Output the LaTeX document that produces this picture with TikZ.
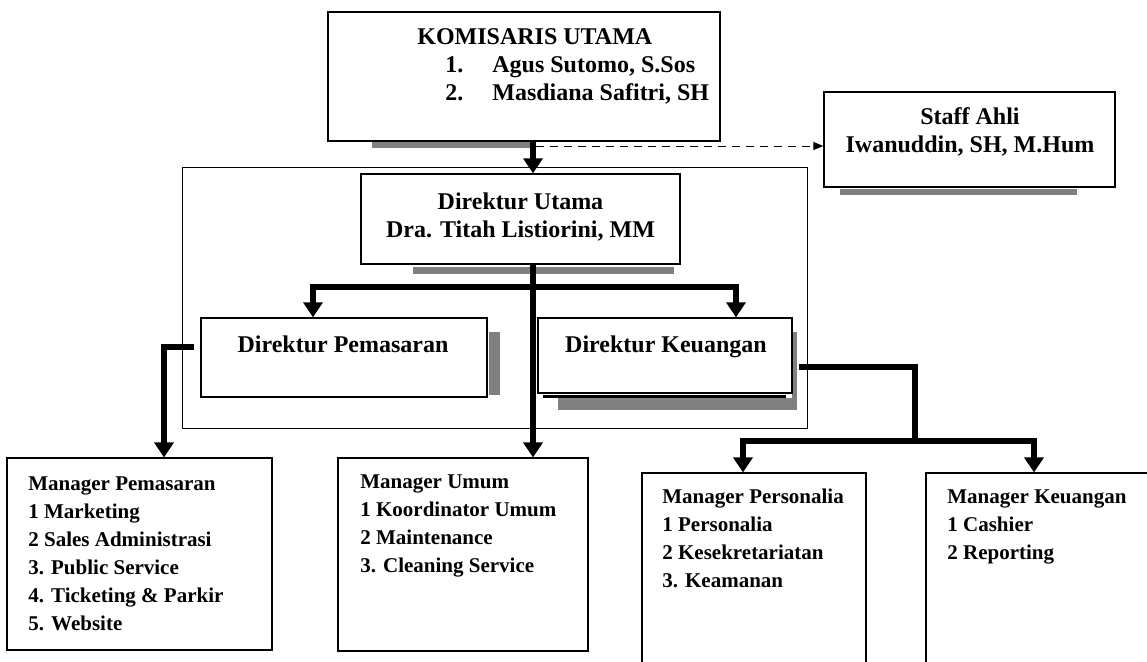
\documentclass[tikz,border=0pt]{standalone}
\usepackage{fontspec}
\setmainfont{Liberation Serif}
\usetikzlibrary{arrows.meta}

\tikzset{
  >={Triangle[length=7.5pt,width=9.5pt]},
  box/.style={draw, line width=0.7pt, fill=white, inner sep=0pt},
  mgrbox/.style={draw, line width=0.6pt, fill=white, inner sep=0pt},
  ghost/.style={fill=gray},
  big/.style={font=\fontsize{12}{14}\selectfont\bfseries, inner sep=0pt},
  small/.style={font=\fontsize{10.5}{14}\selectfont\bfseries, inner sep=0pt, align=left, anchor=base west},
  link/.style={line width=2.6pt, ->},
  bar/.style={line width=2.6pt},
  dashlink/.style={line width=0.5pt, dash pattern=on 4pt off 3pt, -{Triangle[length=5pt,width=4pt]}}
}

\begin{document}
\begin{tikzpicture}[x=0.5pt,y=-0.5pt]
\useasboundingbox (0,0) rectangle (1147,661);
\clip (0,0) rectangle (1147,661);
% frame round the directors
\draw[line width=0.45pt] (182,167) rectangle (807,428);
% shadows
\fill[ghost] (372,142) rectangle (532,148);
\fill[ghost] (840,189) rectangle (1077,195);
\fill[ghost] (413,267) rectangle (674,274);
\fill[ghost] (489,332) rectangle (500,395);
\fill[ghost] (792,332) rectangle (797,410);
\fill[ghost] (558,398) rectangle (797,410);
% boxes
\node[box, minimum width=196pt, minimum height=64.5pt] (kom) at (524,76.5) {};
\node[box, minimum width=145.5pt, minimum height=47.5pt] (sa) at (969.5,139.5) {};
\node[box, minimum width=159.5pt, minimum height=45pt] (du) at (520.5,219) {};
\node[box, minimum width=143pt, minimum height=39.5pt] (dp) at (344,357.5) {};
\node[box, minimum width=127pt, minimum height=37.5pt] (dk) at (665,355.5) {};
\draw[line width=1.5pt] (543,396) -- (786,396);
\node[mgrbox, minimum width=132.5pt, minimum height=96pt] (mp) at (139.5,554) {};
\node[mgrbox, minimum width=125pt, minimum height=96.5pt] (mu) at (463,554.5) {};
\node[mgrbox, minimum width=112pt, minimum height=118.5pt] (mper) at (754,591.5) {};
\node[mgrbox, minimum width=119.5pt, minimum height=118.5pt] (mk) at (1045.5,591.5) {};
% texts (base = last line)
\node[big, anchor=base west, align=left] (kom-t) at (417,100) {KOMISARIS UTAMA\\
  \hspace*{14pt}\makebox[23.5pt][l]{1.}Agus Sutomo, S.Sos\\
  \hspace*{14pt}\makebox[23.5pt][l]{2.}Masdiana Safitri, SH};
\node[big, anchor=base, align=center] (sa-t) at (970,152) {Staff Ahli\\Iwanuddin, SH, M.Hum};
\node[big, anchor=base, align=center] (du-t) at (520.5,237) {Direktur Utama\\Dra. Titah Listiorini, MM};
\node[big, anchor=base] (dp-t) at (343,352) {Direktur Pemasaran};
\node[big, anchor=base] (dk-t) at (666,352) {Direktur Keuangan};
\node[small] (mp-t) at (28,630) {Manager Pemasaran\\1 Marketing\\2 Sales Administrasi\\3. Public Service\\4. Ticketing \& Parkir\\5. Website};
\node[small] (mu-t) at (360,572) {Manager Umum\\1 Koordinator Umum\\2 Maintenance\\3. Cleaning Service};
\node[small] (mper-t) at (662,587) {Manager Personalia\\1 Personalia\\2 Kesekretariatan\\3. Keamanan};
\node[small] (mk-t) at (947,559) {Manager Keuangan\\1 Cashier\\2 Reporting};
% connectors
\coordinate (spine) at (533,0);
\coordinate (dstart) at (536,146);
\coordinate (fork) at (313,287);
\coordinate (forkr) at (736,287);
\coordinate (pbend) at (164,347);
\coordinate (kbend) at (915,367);
\coordinate (kl) at (743,441);
\coordinate (kr) at (1034,441);
\draw[link] (spine |- kom.south) -- (spine |- du.north);
\draw[link] (spine |- du.south) -- (spine |- mu.north);
\draw[dashlink] (dstart) -- (dstart -| sa.west);
\draw[link, <->] (fork |- dp.north) -- (fork) -- (forkr) -- (forkr |- dk.north);
\draw[link] ([xshift=-3pt]pbend -| dp.west) -- (pbend) -- (pbend |- mp.north);
\draw[bar] ([xshift=3pt]kbend -| dk.east) -- (kbend) -- (kbend |- kl);
\draw[link, <->] (kl |- mper.north) -- (kl) -- (kr) -- (kr |- mk.north);
\end{tikzpicture}
\end{document}
